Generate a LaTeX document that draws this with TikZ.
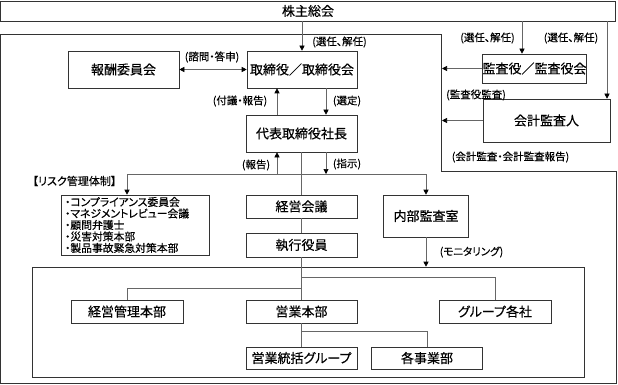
\documentclass[tikz,border=0pt]{standalone}
\usepackage{fontspec}
\setmainfont[RawFeature=+palt,FakeBold=0.4]{Noto Sans CJK JP}
\usepackage{tikz}
\usetikzlibrary{arrows.meta}

\begin{document}
\begin{tikzpicture}[x=1pt,y=-1pt,line width=0.6pt,draw=black!60,
  >={Triangle[length=5pt,width=5pt,color=black]},
  box/.style={draw=black!80,fill=white,inner sep=0pt,font=\fontsize{13}{13}\selectfont},
  lbl/.style={inner sep=0pt,font=\fontsize{10.5}{10.5}\selectfont}]
\useasboundingbox (0,0) rectangle (618,385);
\draw[black!80] (0.5,34) -- (441,34) -- (441,171) -- (616,171) -- (616,383) -- (0.5,383) -- cycle;
\node[box,minimum width=615pt,minimum height=20pt] (soukai) at (308,11) {株主総会};
\node[box,minimum width=110pt,minimum height=37pt] (tori) at (302,69.5) {取締役／取締役会};
\node[box,minimum width=111pt,minimum height=37pt] (hoshu) at (123.5,69.5) {報酬委員会};
\node[box,minimum width=103pt,minimum height=29pt] (kansa) at (534.5,68.5) {監査役／監査役会};
\node[box,minimum width=127pt,minimum height=43pt] (kaikei) at (546.5,120.5) {会計監査人};
\node[box,minimum width=111pt,minimum height=37pt] (daihyo) at (301.5,133.5) {代表取締役社長};
\node[box,minimum width=111pt,minimum height=23pt] (keiei) at (301.5,206.5) {経営会議};
\node[box,minimum width=111pt,minimum height=24pt] (shikko) at (301.5,245) {執行役員};
\node[box,minimum width=85pt,minimum height=42pt] (naibu) at (426,216) {内部監査室};
\node[box,minimum width=148pt,minimum height=60pt,text width=140pt,align=left,
  font=\fontsize{10.8}{11.5}\selectfont] (risk) at (135,225)
  {・コンプライアンス委員会\\・マネジメントレビュー会議\\・顧問弁護士\\・災害対策本部\\・製品事故緊急対策本部};
\node[draw=black!80,inner sep=0pt,minimum width=552pt,minimum height=110pt] (gyomu) at (308,322) {};
\node[box,minimum width=112pt,minimum height=23pt] (kanri) at (127,311.5) {経営管理本部};
\node[box,minimum width=111pt,minimum height=23pt] (eigyo) at (301.5,311.5) {営業本部};
\node[box,minimum width=112pt,minimum height=23pt] (group) at (495,311.5) {グループ各社};
\node[box,minimum width=111pt,minimum height=22pt] (toukatsu) at (301.5,358) {営業統括グループ};
\node[box,minimum width=111pt,minimum height=22pt] (jigyo) at (427,358) {各事業部};
\node[lbl] (l1) at (339.5,42) {(選任、解任)};
\node[lbl] (l2) at (487.5,38) {(選任、解任)};
\node[lbl] (l3) at (571,38) {(選任、解任)};
\node[lbl] (l4) at (212,57) {(諮問・答申)};
\node[lbl] (l5) at (240,101) {(付議・報告)};
\node[lbl] (l6) at (347,101) {(選定)};
\node[lbl] (l7) at (476,95) {(監査役監査)};
\node[lbl] (l8) at (510.5,157) {(会計監査・会計監査報告)};
\node[lbl] (l9) at (256,165) {(報告)};
\node[lbl] (l10) at (347,164) {(指示)};
\node[lbl,font=\fontsize{11}{11}\selectfont] (l11) at (74.5,181) {【リスク管理体制】};
\node[lbl] (l12) at (471.5,252) {(モニタリング)};
\coordinate (fr) at (442,0);
\coordinate (bl) at (127,174);
\coordinate (br) at (426,174);
\draw[->] (soukai.south -| tori) -- (tori.north);
\draw[->] (soukai.south -| 522,0) -- (522,0 |- kansa.north);
\draw[->] (soukai.south -| 607,0) -- (607,0 |- kaikei.north);
\draw[<->] (hoshu) -- (tori);
\draw[->] (kansa.west) -- (kansa.west -| fr);
\draw[->] (kaikei.west) -- (kaikei.west -| fr);
\draw[->] (277,0 |- daihyo.north) -- (277,0 |- tori.south);
\draw[->] (326,0 |- tori.south) -- (326,0 |- daihyo.north);
\draw (bl) -- (br);
\draw[->] (bl) -- (bl |- risk.north);
\draw[->] (br) -- (naibu.north);
\draw[->] (277,0 |- bl) -- (277,0 |- daihyo.south);
\draw[->] (326,0 |- daihyo.south) -- (326,0 |- bl);
\draw (daihyo) -- (keiei);
\draw (keiei) -- (shikko);
\draw (shikko) -- (eigyo);
\draw (eigyo) -- (toukatsu);
\draw[->] (naibu.south) -- (naibu.south |- gyomu.north);
\draw (eigyo.north) ++(0,-11) -| (kanri.north);
\draw (eigyo.north) ++(0,-22) -| (group.north);
\draw (eigyo.south) ++(0,8) -| (jigyo.north);
\end{tikzpicture}
\end{document}
